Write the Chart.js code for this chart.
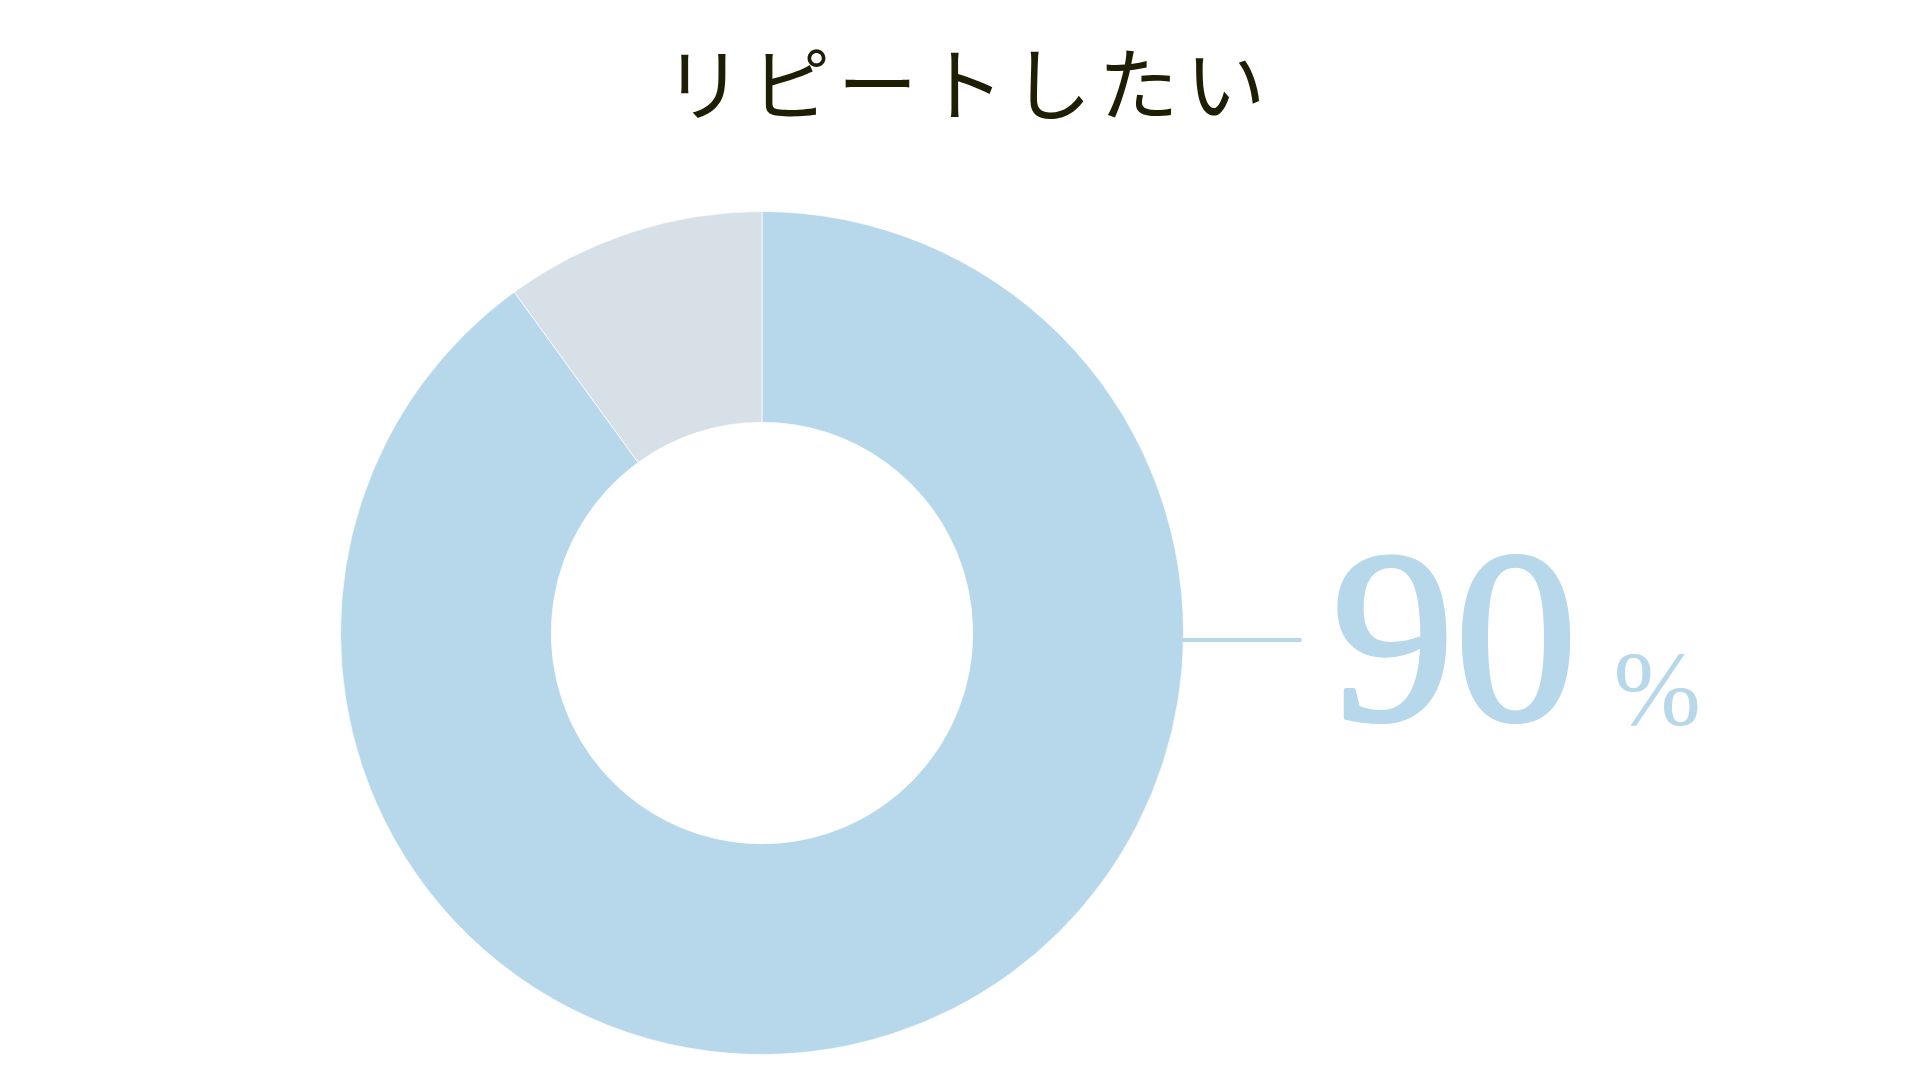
<!DOCTYPE html>
<html>
<head>
<meta charset="utf-8">
<script src="https://cdn.jsdelivr.net/npm/chart.js@4.4.1/dist/chart.umd.min.js"></script>
<style>
  html, body { margin: 0; padding: 0; background: #fff; }
  #wrap { width: 1920px; height: 1080px; }
</style>
</head>
<body>
<div id="wrap"><canvas id="repeatChart" width="1920" height="1080"></canvas></div>
<script>
const titleText = 'リピートしたい';
const labels = ['リピートしたい', 'その他'];
const values = [90, 10];
const sliceColors = ['#b7d7ea', '#d8e0e7'];
const unitText = '%';

// title centred on the whole page, with letter spacing
const titlePlugin = {
  id: 'pageTitle',
  afterDraw(chart) {
    const ctx = chart.ctx;
    ctx.save();
    ctx.letterSpacing = '7px';
    ctx.fillStyle = '#1e1e05';
    ctx.font = '400 80px "Noto Sans CJK JP"';
    ctx.textAlign = 'center';
    ctx.textBaseline = 'middle';
    ctx.fillText(titleText, chart.width / 2 + 8, 84);
    ctx.restore();
  }
};

// horizontal leader line + big percentage at the right of the donut
const calloutPlugin = {
  id: 'callout',
  afterDatasetsDraw(chart) {
    const arc = chart.getDatasetMeta(0).data[0];
    if (!arc) return;
    const ctx = chart.ctx;
    const x0 = arc.x + arc.outerRadius;
    const y0 = arc.y + 7;
    ctx.save();
    ctx.strokeStyle = sliceColors[0];
    ctx.lineWidth = 4;
    ctx.beginPath();
    ctx.moveTo(x0 - 2, y0);
    ctx.lineTo(x0 + 118, y0);
    ctx.stroke();

    ctx.fillStyle = sliceColors[0];
    ctx.textBaseline = 'alphabetic';
    ctx.textAlign = 'left';
    ctx.font = '400 246px "Liberation Serif"';
    const numX = x0 + 148;
    ctx.fillText(String(values[0]), numX, y0 + 80);
    // a little stroke to give the medium weight of the original
    ctx.lineWidth = 4;
    ctx.lineJoin = 'round';
    ctx.strokeText(String(values[0]), numX, y0 + 80);
    ctx.font = '105px "Liberation Serif"';
    ctx.fillText(unitText, numX + 282, y0 + 85);
    ctx.restore();
  }
};

new Chart(document.getElementById('repeatChart'), {
  type: 'doughnut',
  data: {
    labels: labels,
    datasets: [{
      data: values,
      backgroundColor: sliceColors,
      borderColor: 'rgba(255,255,255,0.7)',
      borderWidth: 1
    }]
  },
  options: {
    responsive: false,
    animation: false,
    cutout: '50%',
    layout: { padding: { top: 211, left: 0, right: 396, bottom: 25 } },
    plugins: {
      legend: { display: false },
      tooltip: { enabled: false },
      title: { display: false }
    }
  },
  plugins: [calloutPlugin, titlePlugin]
});
</script>
</body>
</html>
